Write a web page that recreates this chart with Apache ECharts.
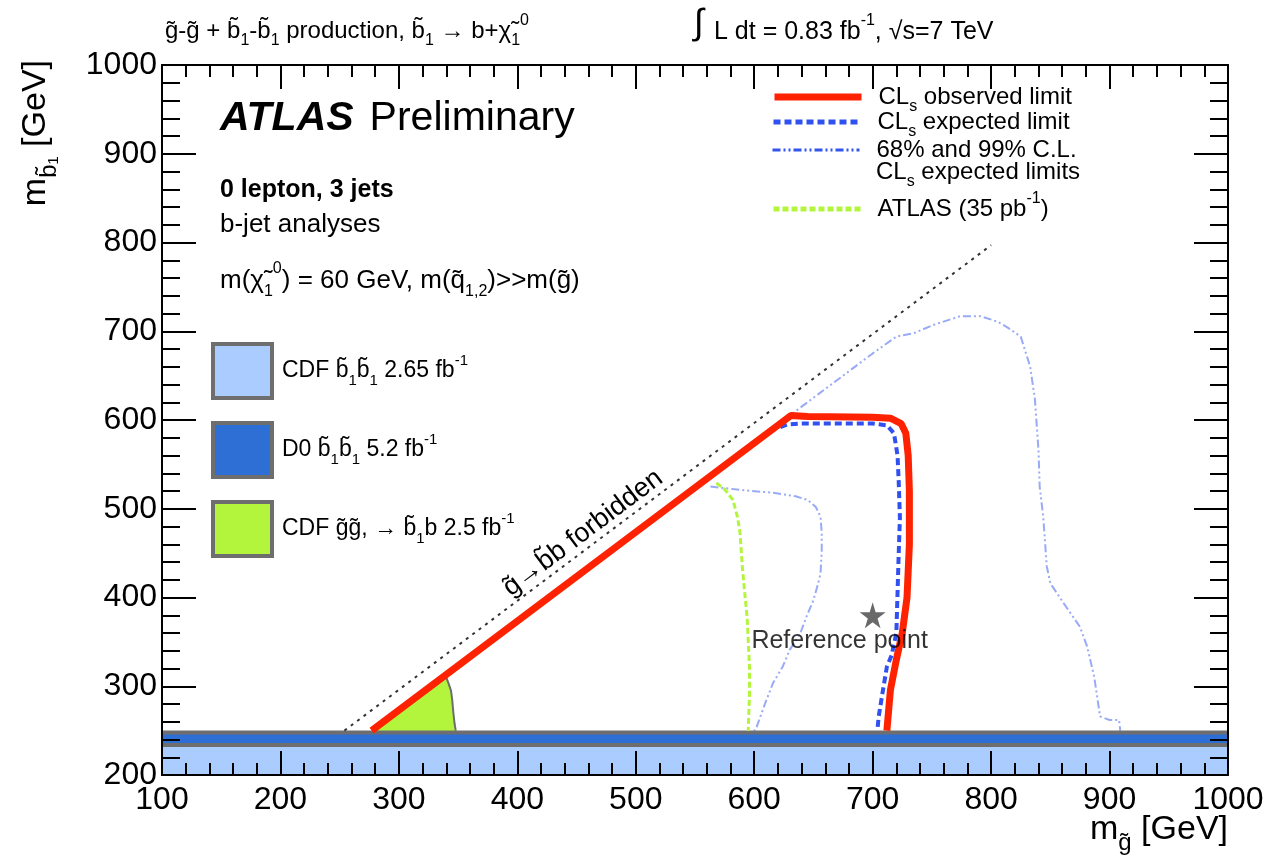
<!DOCTYPE html>
<html><head><meta charset="utf-8">
<script src="https://cdn.jsdelivr.net/npm/echarts@6/dist/echarts.min.js"></script>
<style>html,body{margin:0;padding:0;background:#fff}#c{width:1268px;height:865px}</style>
</head><body><div id="c"></div>
<script>
// axis ranges (GeV)
const xRange = [100, 1000], xStep = 100;
const yRange = [200, 1000], yStep = 100;

// kinematic boundary (gluino -> sbottom + b forbidden above)
const forbidden = [[254, 250], [800, 797]];

// CLs observed limit
const observed = [[277,250],[631,605],[645,604],[700,603],[715,602],[724,596],[728,585],[730,560],[731,520],[731,460],[729,400],[725,360],[720,330],[715,296],[712,250]];

// CLs expected limit
const expected = [[622,592],[628,595],[640,596],[700,596],[712,594],[718,585],[721,560],[722,530],[723,490],[722,450],[721,405],[720,360],[716,335],[712,322],[708,290],[705,265],[704,250]];

// 68% / 99% C.L. expected-limit contours
const bandOuter = [[625,600],[655,630],[678,653],[700,675],[720,694],[735,698],[751,707],[774,717],[791,717],[805,711],[813,705],[825,694],[833,660],[837,623],[840,566],[841,525],[844,491],[847,435],[850,416],[861,394],[875,367],[881,345],[887,311],[892,266],[900,262],[908,262],[909,250]];
const bandInner = [[563,525],[590,521],[616,518],[635,514],[645,510],[652,502],[656,491],[657,472],[657,453],[656,427],[654,416],[650,397],[644,378],[639,360],[630,341],[624,322],[616,304],[609,280],[602,254],[600,250]];

// ATLAS 35 pb^-1 limit
const atlas35 = [[568,529],[575,522],[582,510],[586,490],[588,473],[590,434],[592,405],[594,378],[596,322],[596,290],[595,254],[595,250]];

// CDF gluino-pair region (upper edge)
const cdfGluino = [[278,250],[340,310],[342,303],[344,295],[345,285],[346,270],[347,258],[348,250]];

// horizontal excluded bands (upper edges)
const d0Top = 248;
const cdfTop = 233.8;

// reference point
const refPoint = [[700, 380]];

const FONT = '"Liberation Sans", Arial, Helvetica, sans-serif';
const chart = echarts.init(document.getElementById('c'), null, {renderer: 'canvas'});

const hline = v => [[xRange[0], v], [xRange[1], v]];
const starPath = 'path://M50,0 L61,35 L98,35 L68,57 L79,91 L50,70 L21,91 L32,57 L2,35 L39,35 Z';

// rich-text helper for sub/superscripts
function richSet(size, subSize) {
  return {
    n: {fontSize: size, fontFamily: FONT, color: '#000', fill: '#000', lineHeight: Math.round(size * 1.5)},
    s: {fontSize: subSize, fontFamily: FONT, color: '#000', fill: '#000', verticalAlign: 'bottom', lineHeight: subSize},
    p: {fontSize: subSize, fontFamily: FONT, color: '#000', fill: '#000', verticalAlign: 'top', lineHeight: subSize}
  };
}

const axisCommon = (isX, showLabel, pos) => ({
  type: 'value', position: pos,
  min: isX ? xRange[0] : yRange[0], max: isX ? xRange[1] : yRange[1],
  interval: isX ? xStep : yStep,
  z: 10,
  axisLine: {show: true, onZero: false, lineStyle: {color: '#000', width: 2}},
  axisTick: {show: true, inside: true, length: isX ? 24 : 34, lineStyle: {color: '#000', width: 2}},
  minorTick: {show: true, splitNumber: 5, length: isX ? 12 : 18, lineStyle: {color: '#000', width: 2}},
  splitLine: {show: false},
  axisLabel: {show: showLabel, fontSize: 32, fontFamily: FONT, color: '#000', margin: isX ? 9 : 5,
              formatter: v => String(v)}
});

const legendText = {fontSize: 24, fontFamily: FONT, color: '#000', rich: richSet(24, 16)};
const topLegend = (name, top, width, text) => ({
  left: 771, top: top, padding: 0, itemWidth: 87, itemHeight: 24, selectedMode: false,
  lineStyle: {width: width, opacity: 1}, itemStyle: {opacity: 0},
  textStyle: Object.assign({padding: [0, 0, 0, 12]}, legendText),
  data: [{name: name}], formatter: () => text
});

const option = {
  animation: false,
  backgroundColor: '#fff',
  grid: {left: 162, right: 40, top: 65, bottom: 90},
  xAxis: [axisCommon(true, true, 'bottom'), axisCommon(true, false, 'top')],
  yAxis: [axisCommon(false, true, 'left'), axisCommon(false, false, 'right')],
  legend: [
    {
      orient: 'vertical', left: 211, top: 342, padding: 0, itemWidth: 59, itemHeight: 54, itemGap: 21,
      selectedMode: false,
      textStyle: {fontSize: 23, fontFamily: FONT, color: '#000', padding: [0, 0, 0, 5], rich: richSet(23, 15)},
      data: [
        {name: 'CDF sbottom', icon: 'rect', itemStyle: {color: '#aaccff', borderColor: '#6e6e6e', borderWidth: 4}},
        {name: 'D0 sbottom', icon: 'rect', itemStyle: {color: '#2e6fd6', borderColor: '#6e6e6e', borderWidth: 4}},
        {name: 'CDF gluino', icon: 'rect', itemStyle: {color: '#b3f53d', borderColor: '#6e6e6e', borderWidth: 4}}
      ],
      formatter: n => ({
        'CDF sbottom': '{n|CDF b̃}{s|1}{n|b̃}{s|1}{n| 2.65 fb}{p|-1}',
        'D0 sbottom': '{n|D0 b̃}{s|1}{n|b̃}{s|1}{n| 5.2 fb}{p|-1}',
        'CDF gluino': '{n|CDF g̃g̃, → b̃}{s|1}{n|b 2.5 fb}{p|-1}'
      })[n]
    },
    topLegend('CLs observed limit', 85, 7, '{n|CL}{s|s}{n| observed limit}'),
    topLegend('CLs expected limit', 110, 5, '{n|CL}{s|s}{n| expected limit}'),
    topLegend('68% and 99% C.L.', 138, 3, '{n|68% and 99% C.L.}'),
    topLegend('ATLAS (35 pb-1)', 191, 5, '{n|ATLAS (35 pb}{p|-1}{n|)}')
  ],
  graphic: [
    {type: 'text', left: 165, top: 13, style: {text: '{n|g̃-g̃ + b̃}{s|1}{n|-b̃}{s|1}{n| production, b̃}{s|1}{n| → b+χ̃}{s|1}{p|0}', rich: richSet(24, 16)}},
    {type: 'text', left: 694, top: 6, style: {text: '∫', font: '36px ' + FONT, fill: '#000'}},
    {type: 'text', left: 714, top: 13, style: {text: '{n|L dt = 0.83 fb}{p|-1}{n|, √s=7 TeV}', rich: richSet(25, 16)}},
    {type: 'text', left: 220, top: 98, style: {text: '{a|ATLAS}{b|Preliminary}', rich: {
      a: {fontSize: 41, fontWeight: 'bold', fontStyle: 'italic', fontFamily: FONT, fill: '#000', padding: [0, 16, 0, 0]},
      b: {fontSize: 41, fontFamily: FONT, fill: '#000'}}}},
    {type: 'text', left: 220, top: 178, style: {text: '0 lepton, 3 jets', font: 'bold 25px ' + FONT, fill: '#000'}},
    {type: 'text', left: 220, top: 212, style: {text: 'b-jet analyses', font: '26px ' + FONT, fill: '#000'}},
    {type: 'text', left: 220, top: 261, style: {text: '{n|m(χ̃}{s|1}{p|0}{n|) = 60 GeV, m(q̃}{s|1,2}{n|)>>m(g̃)}', rich: richSet(26, 16)}},
    {type: 'text', x: 583, y: 533, rotation: 0.645, style: {text: 'g̃→b̃b forbidden', font: '27px ' + FONT, fill: '#000', align: 'center', verticalAlign: 'middle'}},
    {type: 'text', x: 876, y: 172, style: {text: '{n|CL}{s|s}{n| expected limits}', verticalAlign: 'middle', rich: richSet(24, 16)}},
    {type: 'text', x: 1228, y: 830, style: {text: '{n|m}{s|g̃}{n| [GeV]}', align: 'right', verticalAlign: 'middle', rich: richSet(34, 24)}},
    {type: 'text', x: 36, y: 60, rotation: Math.PI / 2, style: {text: '{n|m}{s|b̃₁}{n| [GeV]}', align: 'right', verticalAlign: 'middle', rich: richSet(34, 24)}}
  ],
  series: [
    {name: 'CDF gluino', type: 'line', data: cdfGluino, symbol: 'none', z: 1,
     lineStyle: {color: '#6e6e6e', width: 2}, itemStyle: {color: '#b3f53d'},
     areaStyle: {color: '#b3f53d', opacity: 1, origin: 'start'}},
    {name: 'D0 sbottom', type: 'line', data: hline(d0Top), symbol: 'none', z: 2,
     lineStyle: {color: '#6e6e6e', width: 4}, itemStyle: {color: '#2e6fd6'},
     areaStyle: {color: '#2e6fd6', opacity: 1, origin: 'start'}},
    {name: 'CDF sbottom', type: 'line', data: hline(cdfTop), symbol: 'none', z: 2,
     lineStyle: {color: '#6e6e6e', width: 4}, itemStyle: {color: '#aaccff'},
     areaStyle: {color: '#aaccff', opacity: 1, origin: 'start'}},
    {name: 'forbidden', type: 'line', data: forbidden, symbol: 'none', z: 3,
     lineStyle: {color: '#333', width: 2, type: [3, 5]}},
    {name: '68% and 99% C.L.', type: 'line', data: bandOuter, symbol: 'none', z: 3,
     itemStyle: {color: '#3355ee'}, lineStyle: {color: '#3355ee', width: 2, opacity: 0.5, type: [8, 3, 2, 3, 2, 3]}},
    {name: '68% and 99% C.L.', type: 'line', data: bandInner, symbol: 'none', z: 3,
     itemStyle: {color: '#3355ee'}, lineStyle: {color: '#3355ee', width: 2, opacity: 0.5, type: [8, 3, 2, 3, 2, 3]}},
    {name: 'ATLAS (35 pb-1)', type: 'line', data: atlas35, symbol: 'none', z: 3,
     itemStyle: {color: '#b3f53d'}, lineStyle: {color: '#b3f53d', width: 3, type: [6, 3]}},
    {name: 'CLs expected limit', type: 'line', data: expected, symbol: 'none', z: 4,
     itemStyle: {color: '#3050f0'}, lineStyle: {color: '#3050f0', width: 4, type: [7, 4]}},
    {name: 'CLs observed limit', type: 'line', data: observed, symbol: 'none', z: 5,
     itemStyle: {color: '#ff2200'}, lineStyle: {color: '#ff2200', width: 7}},
    {name: 'Reference point', type: 'scatter', data: refPoint, symbol: starPath, symbolSize: 26, z: 6,
     itemStyle: {color: '#444'},
     label: {show: true, position: 'bottom', offset: [-33, -5], formatter: 'Reference point', fontSize: 25, fontFamily: FONT, color: '#000'}}
  ]
};
chart.setOption(option);
</script></body></html>
